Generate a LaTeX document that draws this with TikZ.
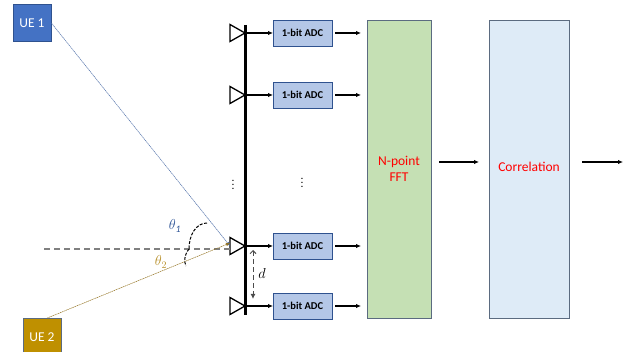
\documentclass[tikz,border=0pt]{standalone}
\usepackage{fontspec}
\setmainfont{Carlito}
\usepackage{xcolor}
\usetikzlibrary{arrows.meta,positioning,shapes.geometric}
\definecolor{uebluefill}{HTML}{4472C4}
\definecolor{uegoldfill}{HTML}{BF9000}
\definecolor{adcfill}{HTML}{B4C7E7}
\definecolor{fftfill}{HTML}{C5E0B4}
\definecolor{corrfill}{HTML}{DEEBF7}
\definecolor{edgeblue}{HTML}{2F528F}
\definecolor{edgegrey}{HTML}{5B6B80}
\definecolor{thetablue}{HTML}{2F5597}
\definecolor{thetagold}{HTML}{B8902A}

\begin{document}
\begin{tikzpicture}[
  x=1pt, y=-1pt,
  ue/.style={draw=edgeblue, thick, text=white, font=\fontsize{13.5}{14}\selectfont, minimum width=38pt, minimum height=37pt, inner sep=0pt},
  ant/.style={draw, line width=1.3pt, isosceles triangle, isosceles triangle apex angle=60, isosceles triangle stretches, minimum width=17pt, minimum height=15pt, inner sep=0pt, outer sep=0pt, anchor=east},
  adc/.style={draw=edgeblue, thick, fill=adcfill, font=\fontsize{10.5}{12}\selectfont\bfseries, minimum width=59pt, minimum height=26pt, inner sep=0pt, outer sep=0pt},
  blockbox/.style={draw=edgegrey, thick, minimum height=298pt, inner sep=0pt, outer sep=0pt, align=center, text=red, font=\fontsize{13.5}{16}\selectfont},
  arr/.style={-{Latex[length=5pt,width=4.5pt]}, line width=1.1pt},
  ray/.style={-{Latex[length=4pt,width=3.5pt]}, line width=0.5pt, dash pattern=on 1.4pt off 0.6pt}
]
  \useasboundingbox (0,0) rectangle (623,352);

  \node[ue, fill=uebluefill] (ue1) at (32,23) {UE 1};
  \node[ue, fill=uegoldfill, draw=edgegrey] (ue2) at (42,337) {UE 2};

  \coordinate (bartop) at (245,25);
  \coordinate (barbot) at (245,315);
  \draw[line width=3pt] (bartop) -- (barbot);

  \foreach \idx/\ypos in {1/33,2/95,3/246,4/306} {
    \node[ant] (ant\idx) at (245,\ypos) {};
    \node[adc, right=28pt of ant\idx.east] (adc\idx) {1-bit ADC};
    \draw[arr] (ant\idx.east) -- (adc\idx.west);
  }

  \node[blockbox, fill=fftfill, minimum width=64pt] (fft) at (399,169) {N-point\\ FFT};
  \node[blockbox, fill=corrfill, minimum width=80pt, right=58pt of fft] (corr) {\raisebox{5pt}{Correlation}};

  \foreach \idx in {1,2,3,4} {
    \draw[arr, shorten <=3pt, shorten >=6pt] (adc\idx.east) -- (adc\idx.east -| fft.west);
  }

  % outgoing row
  \coordinate (flow) at (623,162);
  \draw[arr, shorten <=8pt, shorten >=10pt] (fft.east |- flow) -- (corr.west |- flow);
  \draw[arr, shorten <=13pt] (corr.east |- flow) -- (flow);

  % arrival directions
  \coordinate (ref) at (44,249);
  \draw[line width=1.2pt, black!50, dash pattern=on 6pt off 4pt] (ref) -- (ref -| ant3.west);
  \draw[ray, thetablue!85] (ue1.east) -- (ant3.west);
  \draw[ray, thetagold!80!black] (ue2.75) -- ([yshift=3pt]ant3.west);

  \coordinate (arc1) at (207,223);
  \coordinate (arc2) at (189,249);
  \coordinate (arc3) at (186,266);
  \draw[line width=1pt, dash pattern=on 3pt off 1.5pt] (arc1) .. controls (196,223) and (189,235) .. (arc2);
  \draw[line width=1pt, dash pattern=on 3pt off 1.5pt] (arc2) .. controls (184,255) and (184,262) .. (arc3);
  \node[text=thetablue, font=\fontsize{14}{14}\selectfont] (th1) at (175,226) {$\theta_{\mathit{1}}$};
  \node[text=thetagold, font=\fontsize{14}{14}\selectfont] (th2) at (161,262) {$\theta_{2}$};

  % spacing marker
  \coordinate (dtop) at (253,250);
  \coordinate (dbot) at (253,299);
  \draw[{Straight Barb[length=3pt,width=6pt]}-{Latex[length=5pt,width=5pt]}, line width=1pt, black!70, dash pattern=on 5pt off 3pt] (dtop) -- (dbot);
  \node[font=\fontsize{14}{14}\selectfont] (dlabel) at (262,274) {$d$};

  \node[font=\fontsize{9}{9}\selectfont\bfseries] (dots1) at (233,182) {$\vdots$};
  \node[font=\fontsize{9}{9}\selectfont\bfseries] (dots2) at (302,180) {$\vdots$};
\end{tikzpicture}
\end{document}
